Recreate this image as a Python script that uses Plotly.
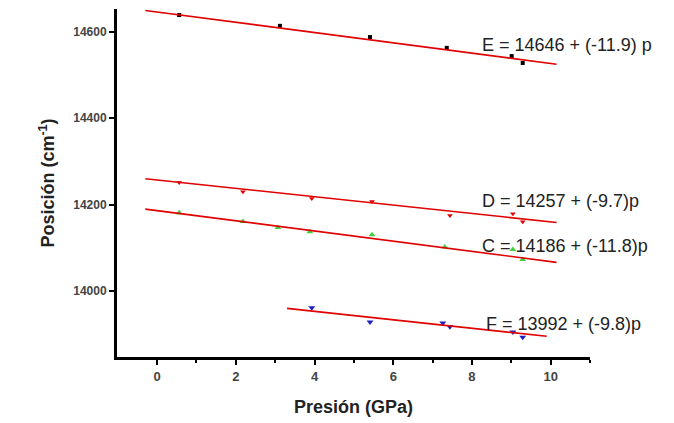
import plotly.graph_objects as go
import numpy as np

# Data points (pressure GPa, position cm^-1)
e_p = [0.56, 3.12, 5.41, 7.36, 9.01, 9.29]
e_pos = [14639, 14614, 14588, 14563, 14544, 14528]

d_p = [0.56, 2.18, 3.93, 5.46, 7.44, 9.04, 9.29]
d_pos = [14251, 14230, 14214, 14207, 14175, 14179, 14160]

c_p = [0.56, 2.18, 3.07, 3.88, 5.46, 7.31, 9.04, 9.29]
c_pos = [14181, 14161, 14147, 14137, 14130, 14102, 14096, 14073]

f_p = [3.93, 5.41, 7.26, 7.44, 9.04, 9.29]
f_pos = [13961, 13928, 13926, 13917, 13905, 13893]

# Linear fits: intercept, slope, x-extent
fit_names = ["E", "D", "C", "F"]
fit_b = [14646, 14257, 14186, 13992]
fit_m = [-11.9, -9.7, -11.8, -9.8]
fit_x0 = [-0.3, -0.3, -0.3, 3.3]
fit_x1 = [10.15, 10.15, 10.15, 9.9]
fit_labels = ["E = 14646 + (-11.9) p", "D = 14257 + (-9.7)p",
              "C = 14186 + (-11.8)p", "F = 13992 + (-9.8)p"]
label_x = [8.2, 8.2, 8.2, 8.3]
label_y = [14570, 14208, 14104, 13924]

x_ticks = [0, 2, 4, 6, 8, 10]
x_minor = [1, 3, 5, 7, 9, 11]
y_ticks = [14000, 14200, 14400, 14600]
y_ticktext = ["<b>14000</b>", "<b>14200</b>", "<b>14400</b>", "<b>14600</b>"]
x_ticktext = ["<b>0</b>", "<b>2</b>", "<b>4</b>", "<b>6</b>", "<b>8</b>", "<b>10</b>"]

fig = go.Figure()

fig.add_trace(go.Scatter(x=e_p, y=e_pos, mode="markers",
                         marker=dict(symbol="square", size=4, color="black")))
fig.add_trace(go.Scatter(x=d_p, y=d_pos, mode="markers",
                         marker=dict(symbol="triangle-down", size=5, color="#e00000")))
fig.add_trace(go.Scatter(x=c_p, y=c_pos, mode="markers",
                         marker=dict(symbol="triangle-up", size=6, color="#40d040")))
fig.add_trace(go.Scatter(x=f_p, y=f_pos, mode="markers",
                         marker=dict(symbol="triangle-down", size=6, color="#2020c0")))

for b, m, x0, x1 in zip(fit_b, fit_m, fit_x0, fit_x1):
    xs = np.array([x0, x1])
    fig.add_trace(go.Scatter(x=xs, y=b + m * xs, mode="lines",
                             line=dict(color="#e00000", width=1.6)))

for txt, lx, ly in zip(fit_labels, label_x, label_y):
    fig.add_annotation(x=lx, y=ly, text=txt, showarrow=False, xanchor="left",
                       yanchor="middle",
                       font=dict(family="Liberation Sans, Arial", size=18, color="#222"))

fig.update_layout(
    width=674, height=423,
    margin=dict(l=117, r=84, t=9, b=66),
    paper_bgcolor="white", plot_bgcolor="white",
    showlegend=False,
    font=dict(family="Liberation Sans, Arial", color="#222"),
)
fig.update_xaxes(
    range=[-1.02, 11.0], tickvals=x_ticks, ticktext=x_ticktext,
    ticks="outside", ticklen=5, tickwidth=2,
    tickcolor="black", showline=True, linewidth=3, linecolor="black",
    showgrid=False, zeroline=False,
    minor=dict(tickvals=x_minor, ticks="outside", ticklen=3, tickwidth=2, tickcolor="black"),
    tickfont=dict(size=13, color="#444", family="Liberation Sans, Arial"),
    title=dict(text="<b>Presión (GPa)</b>", font=dict(size=18, color="#222"), standoff=18),
)
fig.update_yaxes(
    range=[13847, 14653], tickvals=y_ticks, ticktext=y_ticktext,
    ticks="outside", ticklen=5, tickwidth=2,
    tickcolor="black", showline=True, linewidth=3, linecolor="black",
    showgrid=False, zeroline=False,
    tickfont=dict(size=12, color="#444", family="Liberation Sans, Arial"),
    title=dict(text="<b>Posición (cm<sup>-1</sup>)</b>", font=dict(size=18, color="#222"), standoff=14),
)

fig.write_html("out.html")
